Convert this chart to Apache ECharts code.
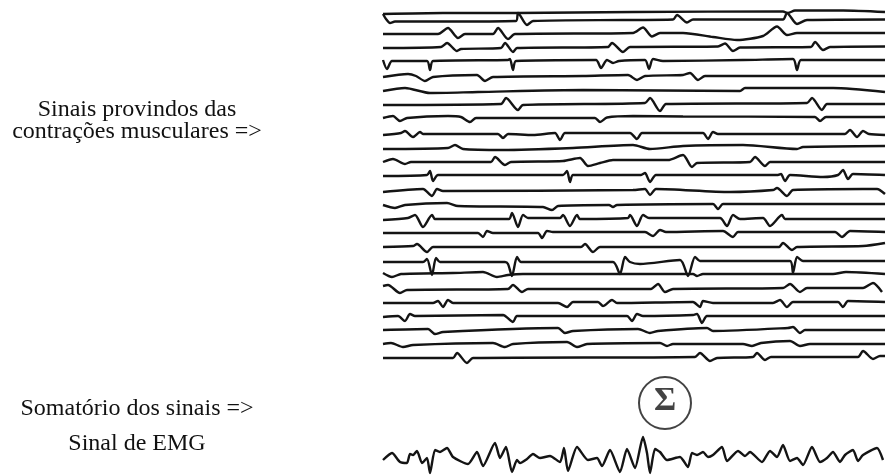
<!DOCTYPE html>
<html>
<head>
<meta charset="utf-8">
<script src="https://cdn.jsdelivr.net/npm/echarts@6/dist/echarts.min.js"></script>
<style>
  html, body { margin: 0; padding: 0; background: #fff; }
  #main { width: 887px; height: 475px; }
</style>
</head>
<body>
<div id="main"></div>
<script>
// baseline of each muscle-fibre trace (top to bottom)
const levels = [13, 21, 34, 48, 61, 77, 90, 104, 118, 134, 148, 162, 176, 191, 205, 219, 233, 247, 262, 274, 289, 303, 317, 330, 344, 358]

// each trace: [time, offset from its baseline] (negative = up)
const traces = [
  [[0, 1], [60, 0], [134, 0], [250, -1], [400, -1.5], [405, 0], [412, -2.5], [460, -2.5], [502, -1]],
  [[0, -7], [3, -2], [7, 2], [12, 0.5], [60, 0.5], [133, 0], [135, -8], [144, 4], [150, 0], [240, -1], [290, -1.5], [294, -6], [304, 1.5], [310, -1.5], [400, -1.5], [404, -8], [414, 3], [424, -1], [502, -1.5]],
  [[0, 0], [55, 0], [65, -6], [75, 4], [82, 0], [110, 0], [115, -6], [125, 5], [132, 0], [250, -1], [260, -6.5], [269, 2.5], [277, -1], [300, -1], [330, 3], [354, 6], [380, 2], [394, -7.5], [404, 1], [414, -1], [502, -1]],
  [[0, 0], [58, -1], [64, -5], [74, 3], [78, 1], [118, 0], [122, -5], [130, 4], [134, 0], [225, -1], [229, -5], [240, 4], [247, -1], [335, -1.5], [342, -4.5], [350, 3], [357, -0.5], [428, -1], [432, -6], [440, 2], [447, -1], [502, -1.5]],
  [[0, -1], [4, 8], [9, 0], [44, 0], [47, 9], [50, 0], [125, -1], [127, -2], [130, 9], [133, 0], [213, -1], [218, 7], [224, -1], [230, 2], [236, 0], [262, -1], [266, 8], [270, -2], [280, 0], [360, -1], [410, -2], [414, 9], [418, -1], [502, -1]],
  [[0, 0], [25, -3], [33, -1], [42, 4], [50, 0], [94, -2], [102, 4], [110, 0], [200, -1], [245, -2], [254, 3], [262, -1], [300, -2], [307, -4], [315, 3], [322, -1], [502, -1]],
  [[0, 1], [22, -2], [47, 3], [95, 2], [200, 0], [357, 1], [362, -2], [450, -2], [502, 2]],
  [[0, 1], [118, 0], [123, -6], [135, 6], [140, 1], [262, -1], [267, -6], [277, 7], [283, 0], [424, -1], [429, -6], [439, 6], [444, 0], [502, 0]],
  [[0, 0], [10, -2], [17, 3], [24, 0], [65, -2], [78, -1], [87, 4], [93, 0], [212, 0], [217, 4], [224, -0.5], [250, -2], [300, -1.5], [432, -1], [437, 3], [443, -1], [502, -1]],
  [[0, 1], [18, -1], [22, -3], [30, 3], [37, -2], [40, 0], [115, 0], [120, 4], [125, 0], [150, 1], [172, -1], [177, 6], [182, -1], [247, -1], [254, 5], [259, -1], [320, -1], [325, 5], [330, -2], [335, 0], [462, 0], [467, -4], [474, 3], [480, -3], [486, 0], [502, 1]],
  [[0, 1], [65, 0], [72, -3], [80, 1], [120, 2], [190, 0], [250, -3], [267, 1], [300, -2], [360, -3], [414, 1], [420, -1], [502, -2]],
  [[0, 0], [10, -3], [22, 2], [28, 0], [108, 0], [112, -5], [122, 3], [128, 0], [180, -1], [197, -4], [205, 4], [217, 1], [230, -2], [285, -2], [300, -7], [309, 5], [314, 1], [367, 0], [372, -5], [382, 4], [387, 0], [502, 0]],
  [[0, 0], [44, -1], [47, -5], [50, 5], [55, -1], [180, -1], [184, -5], [187, 6], [190, -1], [258, -1], [262, -3], [267, 6], [273, -1], [395, -1], [398, -2], [402, 5], [407, -1], [440, 1], [455, -1], [460, -6], [465, 3], [470, -2], [502, -1]],
  [[0, 1], [40, -2], [49, 5], [54, -2], [60, 0], [250, -1], [262, -2], [267, 4], [273, -2], [347, 1], [390, -1], [394, -3], [404, 5], [410, -1], [480, -2], [494, -2], [502, 3]],
  [[0, 0], [12, 3], [22, 0], [64, -2], [75, 1], [160, 2], [169, 5], [175, 1], [226, 0], [230, 2], [234, 0], [330, -1], [335, 4], [340, -1], [502, -1]],
  [[0, 1], [25, -1], [32, -4], [40, 8], [49, -4], [52, 0], [126, 0], [129, -6], [135, 8], [140, -4], [145, -1], [177, -1], [180, -4], [187, 7], [194, -4], [197, 0], [245, -1], [247, -4], [254, 7], [260, -4], [266, -1], [337, -1], [344, 7], [350, -4], [357, 0], [380, -1], [387, 7], [399, -4], [402, 0], [502, 0]],
  [[0, 0], [95, 0], [100, 4], [104, -2], [110, 0], [155, 0], [159, 5], [164, -2], [170, -1], [262, -1], [270, 3], [277, -3], [283, -1], [340, -2], [350, 4], [355, -1], [452, -1], [459, 4], [467, -2], [502, -1]],
  [[0, 0], [30, -1], [34, -3], [44, 5], [50, 0], [198, 0], [202, -3], [210, 5], [217, 0], [396, 0], [400, -4], [409, 3], [414, 0], [480, -1], [502, -4]],
  [[0, 0], [40, 0], [44, -3], [49, 13], [53, -4], [57, 0], [122, 0], [125, 2], [129, 14], [134, -5], [138, 0], [230, 0], [237, 12], [242, -5], [247, 0], [257, 2], [297, -2], [305, 14], [312, -5], [317, -1], [407, -1], [410, 11], [414, -5], [420, -1], [502, -1]],
  [[0, -1], [9, 3], [18, 0], [70, -1], [100, -2], [114, 3], [125, 1], [140, 0], [310, 0], [314, 2], [320, 0], [450, 0], [463, -2], [502, 0]],
  [[0, -3], [5, -4], [17, 4], [24, 1], [125, 0], [130, -4], [139, 3], [145, 0], [268, 0], [275, -5], [282, 3], [290, 0], [400, -1], [407, -5], [417, 3], [424, -1], [480, -1], [490, -6], [499, 3]],
  [[0, 0], [50, 0], [55, -2], [60, 4], [65, -3], [70, 0], [175, 0], [184, 4], [190, -1], [215, -1], [220, 3], [229, -3], [234, 0], [310, -1], [317, 4], [320, -2], [330, 0], [390, 0], [397, -3], [404, 4], [410, -1], [455, -1], [460, 4], [465, -2], [502, -1]],
  [[0, 0], [15, -1], [22, 4], [27, -3], [32, -1], [120, -2], [130, 5], [134, -1], [244, -1], [249, 4], [254, -3], [260, -1], [310, -2], [314, -3], [319, 6], [324, -1], [502, -1]],
  [[0, 0], [45, -1], [52, 4], [60, 2], [175, -2], [182, 3], [190, 1], [255, -1], [267, 3], [275, 1], [324, -2], [330, 1], [405, -2], [410, -3], [417, 3], [422, 0], [502, 0]],
  [[0, 0], [8, -1], [20, 3], [30, 1], [110, -1], [122, 3], [130, 0], [184, -2], [194, 3], [204, 0], [277, -1], [284, 2], [290, 0], [360, 0], [369, 2], [378, -1], [407, -3], [417, 2], [427, 0], [502, 0]],
  [[0, 0], [70, 0], [74, -5], [84, 5], [90, 0], [312, -1], [317, -5], [327, 3], [334, 0], [370, -1], [374, -5], [382, 2], [388, -1], [475, -1], [480, -7], [490, 1], [497, -2], [502, -2]]
]

// summed EMG signal: [time, level]
const emg = [
  [0, 460], [9, 453], [17, 462], [24, 463], [27, 454], [30, 455], [34, 451], [39, 463], [44, 458], [47, 473],
  [52, 450], [57, 452], [64, 448], [70, 457], [85, 464], [94, 452], [100, 466], [112, 443], [117, 458], [123, 447],
  [129, 472], [134, 460], [137, 463], [144, 459], [150, 454], [157, 458], [167, 456], [177, 462], [181, 448], [185, 471],
  [194, 447], [205, 460], [214, 458], [219, 466], [227, 450], [237, 472], [244, 449], [252, 468], [260, 437], [264, 453],
  [267, 473], [272, 449], [277, 452], [284, 460], [297, 457], [305, 467], [309, 453], [314, 455], [320, 452], [325, 457],
  [330, 455], [339, 447], [344, 461], [355, 451], [362, 456], [367, 452], [379, 462], [387, 451], [394, 457], [400, 445],
  [407, 461], [414, 458], [420, 465], [429, 447], [437, 462], [444, 458], [450, 452], [457, 462], [462, 455], [470, 450],
  [475, 461], [480, 455], [494, 448], [500, 460]
]

const sigma = [[282, 403]]

const labels = [
  { text: 'Sinais provindos das', y: 110 },
  { text: 'contrações musculares =>', y: 132 },
  { text: 'Somatório dos sinais =>', y: 409 },
  { text: 'Sinal de EMG', y: 444 }
]

const ink = '#141414'
const chart = echarts.init(document.getElementById('main'))

const series = traces.map((pts, i) => ({
  type: 'line',
  data: pts.map(([t, d]) => [t, levels[i] + d]),
  showSymbol: false,
  smooth: 0.25,
  lineStyle: { color: ink, width: 2.4 },
  silent: true
}))

series.push({
  type: 'line',
  data: emg,
  showSymbol: false,
  smooth: 0.2,
  lineStyle: { color: ink, width: 2.4 },
  silent: true
})

series.push({
  type: 'scatter',
  data: sigma,
  symbol: 'circle',
  symbolSize: 52,
  itemStyle: { color: '#fff', borderColor: ink, borderWidth: 2 },
  label: {
    show: true,
    position: 'inside',
    formatter: 'Σ',
    offset: [0, -2],
    color: ink,
    fontFamily: 'Liberation Serif',
    fontWeight: 'bold',
    fontSize: 34
  },
  silent: true
})

chart.setOption({
  animation: false,
  backgroundColor: '#fff',
  grid: { left: 383, right: 2, top: 0, bottom: 0 },
  xAxis: { type: 'value', min: 0, max: 502, show: false },
  yAxis: { type: 'value', min: 0, max: 475, inverse: true, show: false },
  graphic: labels.map((l) => ({
    type: 'text',
    x: 137,
    y: l.y,
    style: {
      text: l.text,
      textAlign: 'center',
      textVerticalAlign: 'middle',
      align: 'center',
      verticalAlign: 'middle',
      font: '24px "Liberation Serif"',
      fill: '#111'
    }
  })),
  series
})
</script>
</body>
</html>
